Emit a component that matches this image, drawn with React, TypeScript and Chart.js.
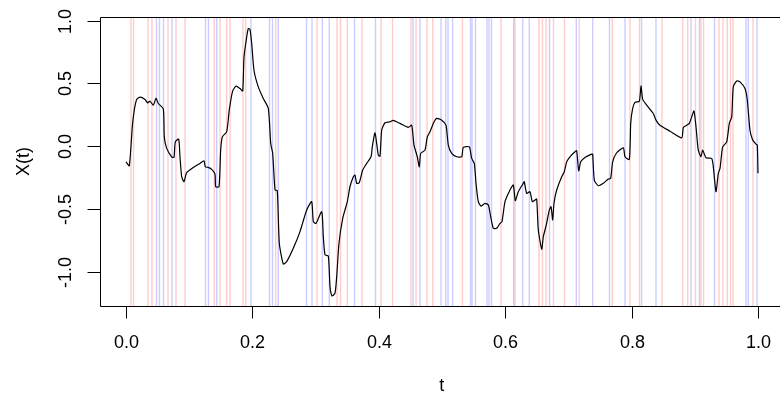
import React, { useEffect, useRef } from "react";
import { Chart, registerables } from "chart.js";

Chart.register(...registerables);

// Sample path X(t)
const tValues = [
  0.0, 0.0052, 0.01, 0.0131, 0.0169, 0.0222, 0.0301, 0.0343, 0.038, 0.0432,
  0.0475, 0.0511, 0.059, 0.0606, 0.0644, 0.0723, 0.0759, 0.078, 0.0834, 0.0854,
  0.0881, 0.0918, 0.096, 0.1065, 0.1171, 0.1234, 0.1255, 0.1302, 0.1356, 0.1408,
  0.1419, 0.1472, 0.1498, 0.1524, 0.1593, 0.1634, 0.1688, 0.1741, 0.1804, 0.1847,
  0.1867, 0.191, 0.1935, 0.1962, 0.1989, 0.2025, 0.2093, 0.2172, 0.2252,
  0.229, 0.2321, 0.2358, 0.2394, 0.2426, 0.2489, 0.2543, 0.2647, 0.2753, 0.2859,
  0.2938, 0.2964, 0.3006, 0.3097, 0.3122, 0.3149, 0.3201, 0.3228, 0.3259, 0.3307,
  0.3334, 0.337, 0.3429, 0.3502, 0.3544, 0.3597, 0.3623, 0.365, 0.3691, 0.3745,
  0.3808, 0.3877, 0.3897, 0.394, 0.3992, 0.4019, 0.4046, 0.4098, 0.4177, 0.4229,
  0.4335, 0.4467, 0.452, 0.4557, 0.4609, 0.4641, 0.4663, 0.4731,
  0.4767, 0.481, 0.4862, 0.4916, 0.4995, 0.5063, 0.51, 0.5153, 0.5233, 0.5312,
  0.5337, 0.5432, 0.547, 0.5511, 0.5538, 0.5574, 0.5617, 0.568, 0.5733, 0.5771,
  0.5812, 0.5866, 0.5918, 0.5949, 0.5997, 0.6076, 0.6128, 0.616, 0.6207, 0.6286,
  0.6302, 0.634, 0.6392, 0.6429, 0.6472, 0.6498, 0.6524, 0.6578, 0.6603, 0.6646,
  0.6698, 0.6725, 0.6751, 0.6772, 0.6815, 0.6894, 0.6935, 0.6973, 0.7025, 0.7104,
  0.7131, 0.7163, 0.7195, 0.7263,
  0.7369, 0.7384, 0.741, 0.7473, 0.7552, 0.7631, 0.7669, 0.7701, 0.7764, 0.7869,
  0.7896, 0.7964, 0.7986, 0.8017, 0.8054, 0.8122, 0.8149, 0.8176, 0.8239, 0.8343,
  0.8386, 0.8449, 0.8608, 0.8793, 0.8818, 0.8872, 0.8913, 0.8951, 0.8987, 0.9019,
  0.9055, 0.9098, 0.9125, 0.9177, 0.9267, 0.9293, 0.9335, 0.9372, 0.9399, 0.9441,
  0.9505, 0.9546, 0.9584, 0.9609, 0.9663, 0.9715, 0.9794, 0.9831, 0.9873, 0.9916,
  0.9968, 0.9989, 1.0,
];

const xValues = [
  -0.125, -0.157, 0.154, 0.287, 0.372, 0.39, 0.372, 0.345, 0.358, 0.326,
  0.382, 0.34, 0.297, 0.074, -0.018, -0.085, -0.09, 0.034, 0.056, -0.085,
  -0.244, -0.284, -0.212, -0.17, -0.138, -0.117, -0.165, -0.17, -0.186, -0.223,
  -0.324, -0.324, -0.032, 0.074, 0.114, 0.287, 0.44, 0.478, 0.459, 0.44,
  0.711, 0.87, 0.937, 0.929, 0.818, 0.605, 0.472, 0.38, 0.3,
  0.021, -0.058, -0.35, -0.356, -0.775, -0.94, -0.921, -0.815, -0.682, -0.51,
  -0.443, -0.603, -0.616, -0.523, -0.722, -0.868, -0.876, -1.12, -1.194, -1.173,
  -1.04, -0.775, -0.576, -0.443, -0.324, -0.244, -0.231, -0.297, -0.292, -0.191,
  -0.138, -0.085, -0.006, 0.106, -0.072, -0.08, 0.127, 0.186, 0.194, 0.205,
  0.181, 0.149, 0.167, 0.008, -0.085, -0.165, -0.058, -0.032,
  0.074, 0.114, 0.181, 0.221, 0.207, 0.167, 0.008, -0.058, -0.085, -0.085,
  -0.01, -0.006, -0.098, -0.138, -0.297, -0.443, -0.478, -0.456, -0.47, -0.563,
  -0.655, -0.655, -0.616, -0.603, -0.443, -0.35, -0.31, -0.435, -0.364, -0.297,
  -0.284, -0.377, -0.364, -0.443, -0.43, -0.422, -0.669, -0.822, -0.722, -0.637,
  -0.51, -0.483, -0.589, -0.456, -0.35, -0.244, -0.205, -0.125, -0.085, -0.045,
  -0.037, -0.197, -0.125, -0.09,
  -0.064, -0.064, -0.271, -0.316, -0.297, -0.263, -0.257, -0.125, -0.053, -0.014,
  -0.085, -0.106, 0.181, 0.3, 0.348, 0.358, 0.48, 0.372, 0.326, 0.26,
  0.207, 0.167, 0.119, 0.066, 0.149, 0.167, 0.181, 0.233, 0.281, 0.154,
  -0.032, -0.085, -0.032, -0.093, -0.098, -0.165, -0.364, -0.217, -0.178, -0.006,
  0.034, 0.181, 0.233, 0.472, 0.52, 0.512, 0.459, 0.366, 0.127, 0.048,
  0.016, 0.008, -0.217,
];

// Jump times (red = up, blue = down)
const redJumps = [
  0.0079, 0.0119, 0.0348, 0.0411, 0.0665, 0.0791, 0.0934, 0.1397, 0.1487, 0.1593,
  0.1646, 0.1851, 0.1894, 0.2369, 0.3022, 0.3339, 0.3394, 0.3502, 0.3734, 0.4035,
  0.4217, 0.4509, 0.4589, 0.4763, 0.4853, 0.5324, 0.5934, 0.6155, 0.6535, 0.659,
  0.6646, 0.6764, 0.6938, 0.7172, 0.7695, 0.7975, 0.8125, 0.8481, 0.8809, 0.8888,
  0.9011, 0.9098, 0.9138, 0.9383, 0.9446, 0.9514, 0.9565, 0.9604, 0.9921,
];

const blueJumps = [
  0.0483, 0.053, 0.0593, 0.0728, 0.1258, 0.1305, 0.1435, 0.1978, 0.2271, 0.2318,
  0.241, 0.2856, 0.2943, 0.3106, 0.3217, 0.3616, 0.3948, 0.4541, 0.4652, 0.4984,
  0.5059, 0.5095, 0.5169, 0.5451, 0.5475, 0.553, 0.5712, 0.5744, 0.5783, 0.6134,
  0.6277, 0.6381, 0.6701, 0.7125, 0.7384, 0.765, 0.7896, 0.8157, 0.8386, 0.894,
  0.9074, 0.9312, 0.981, 0.9847, 0.9984,
];

const xTickValues = [0, 0.2, 0.4, 0.6, 0.8, 1.0];
const yTickValues = [-1, -0.5, 0, 0.5, 1];
const xTitle = "t";
const yTitle = "X(t)";

const FONT = '"Liberation Sans", Arial, Helvetica, sans-serif';

export default function App() {
  const ref = useRef<HTMLCanvasElement>(null);

  useEffect(() => {
    document.body.style.margin = "0";
    const canvas = ref.current!;

    const rPlot = {
      id: "rPlot",
      beforeDatasetsDraw(chart: any) {
        const { ctx, chartArea, scales } = chart;
        const xs = scales.x;
        ctx.save();
        ctx.lineWidth = 1.4;
        const drawLines = (arr: number[], color: string) => {
          ctx.strokeStyle = color;
          for (const t of arr) {
            const px = xs.getPixelForValue(t);
            ctx.beginPath();
            ctx.moveTo(px, chartArea.top);
            ctx.lineTo(px, chartArea.bottom);
            ctx.stroke();
          }
        };
        drawLines(redJumps, "rgba(255,0,0,0.2)");
        drawLines(blueJumps, "rgba(0,0,255,0.2)");
        ctx.restore();
      },
      afterDraw(chart: any) {
        const { ctx, chartArea, scales } = chart;
        const xs = scales.x;
        const ys = scales.y;
        const L = chartArea.left + 0.5;
        const T = chartArea.top + 0.5;
        const B = chartArea.bottom + 0.5;
        ctx.save();
        ctx.strokeStyle = "#000";
        ctx.lineWidth = 1;
        // box (right side lies outside the canvas)
        ctx.beginPath();
        ctx.moveTo(chart.width + 5, T);
        ctx.lineTo(L, T);
        ctx.lineTo(L, B);
        ctx.lineTo(chart.width + 5, B);
        ctx.stroke();

        ctx.fillStyle = "#000";
        ctx.font = `18px ${FONT}`;
        ctx.textAlign = "center";
        ctx.textBaseline = "middle";

        // x axis ticks & labels
        for (const v of xTickValues) {
          const px = Math.round(xs.getPixelForValue(v)) + 0.5;
          ctx.beginPath();
          ctx.moveTo(px, B);
          ctx.lineTo(px, B + 12);
          ctx.stroke();
          ctx.fillText(v.toFixed(1), px, 343);
        }
        // y axis ticks & labels (rotated)
        for (const v of yTickValues) {
          const py = Math.round(ys.getPixelForValue(v)) + 0.5;
          ctx.beginPath();
          ctx.moveTo(L, py);
          ctx.lineTo(L - 13, py);
          ctx.stroke();
          ctx.save();
          ctx.translate(66, py);
          ctx.rotate(-Math.PI / 2);
          ctx.fillText(v.toFixed(1), 0, 0);
          ctx.restore();
        }
        // titles
        const cx = (chartArea.left + xs.getPixelForValue(1.04)) / 2;
        ctx.fillText(xTitle, cx, 386);
        ctx.save();
        ctx.translate(24, (chartArea.top + chartArea.bottom) / 2);
        ctx.rotate(-Math.PI / 2);
        ctx.fillText(yTitle, 0, 0);
        ctx.restore();
        ctx.restore();
      },
    };

    const data = tValues
      .map((t, i) => ({ x: t, y: xValues[i] }))
      .filter((p) => p.y !== undefined);

    const chart = new Chart(canvas, {
      type: "line",
      data: {
        datasets: [
          {
            data,
            borderColor: "#000",
            borderWidth: 1.2,
            pointRadius: 0,
            tension: 0.2,
            fill: false,
          },
        ],
      },
      options: {
        responsive: false,
        maintainAspectRatio: false,
        animation: false,
        events: [],
        layout: { padding: { top: 17, left: 0, right: 0, bottom: 0 } },
        plugins: { legend: { display: false }, tooltip: { enabled: false } },
        scales: {
          x: {
            type: "linear",
            min: -26 / 632,
            max: 654 / 632,
            grid: { display: false },
            border: { display: false },
            ticks: { display: false },
            afterFit: (s: any) => {
              s.height = 91;
            },
          },
          y: {
            type: "linear",
            min: -1.275,
            max: 1.0295,
            grid: { display: false },
            border: { display: false },
            ticks: { display: false },
            afterFit: (s: any) => {
              s.width = 100;
            },
          },
        },
      },
      plugins: [rPlot],
    });

    return () => chart.destroy();
  }, []);

  return (
    <div style={{ position: "absolute", left: 0, top: 0, width: 780, height: 397, background: "#fff" }}>
      <canvas ref={ref} width={780} height={397} style={{ display: "block" }} />
    </div>
  );
}
